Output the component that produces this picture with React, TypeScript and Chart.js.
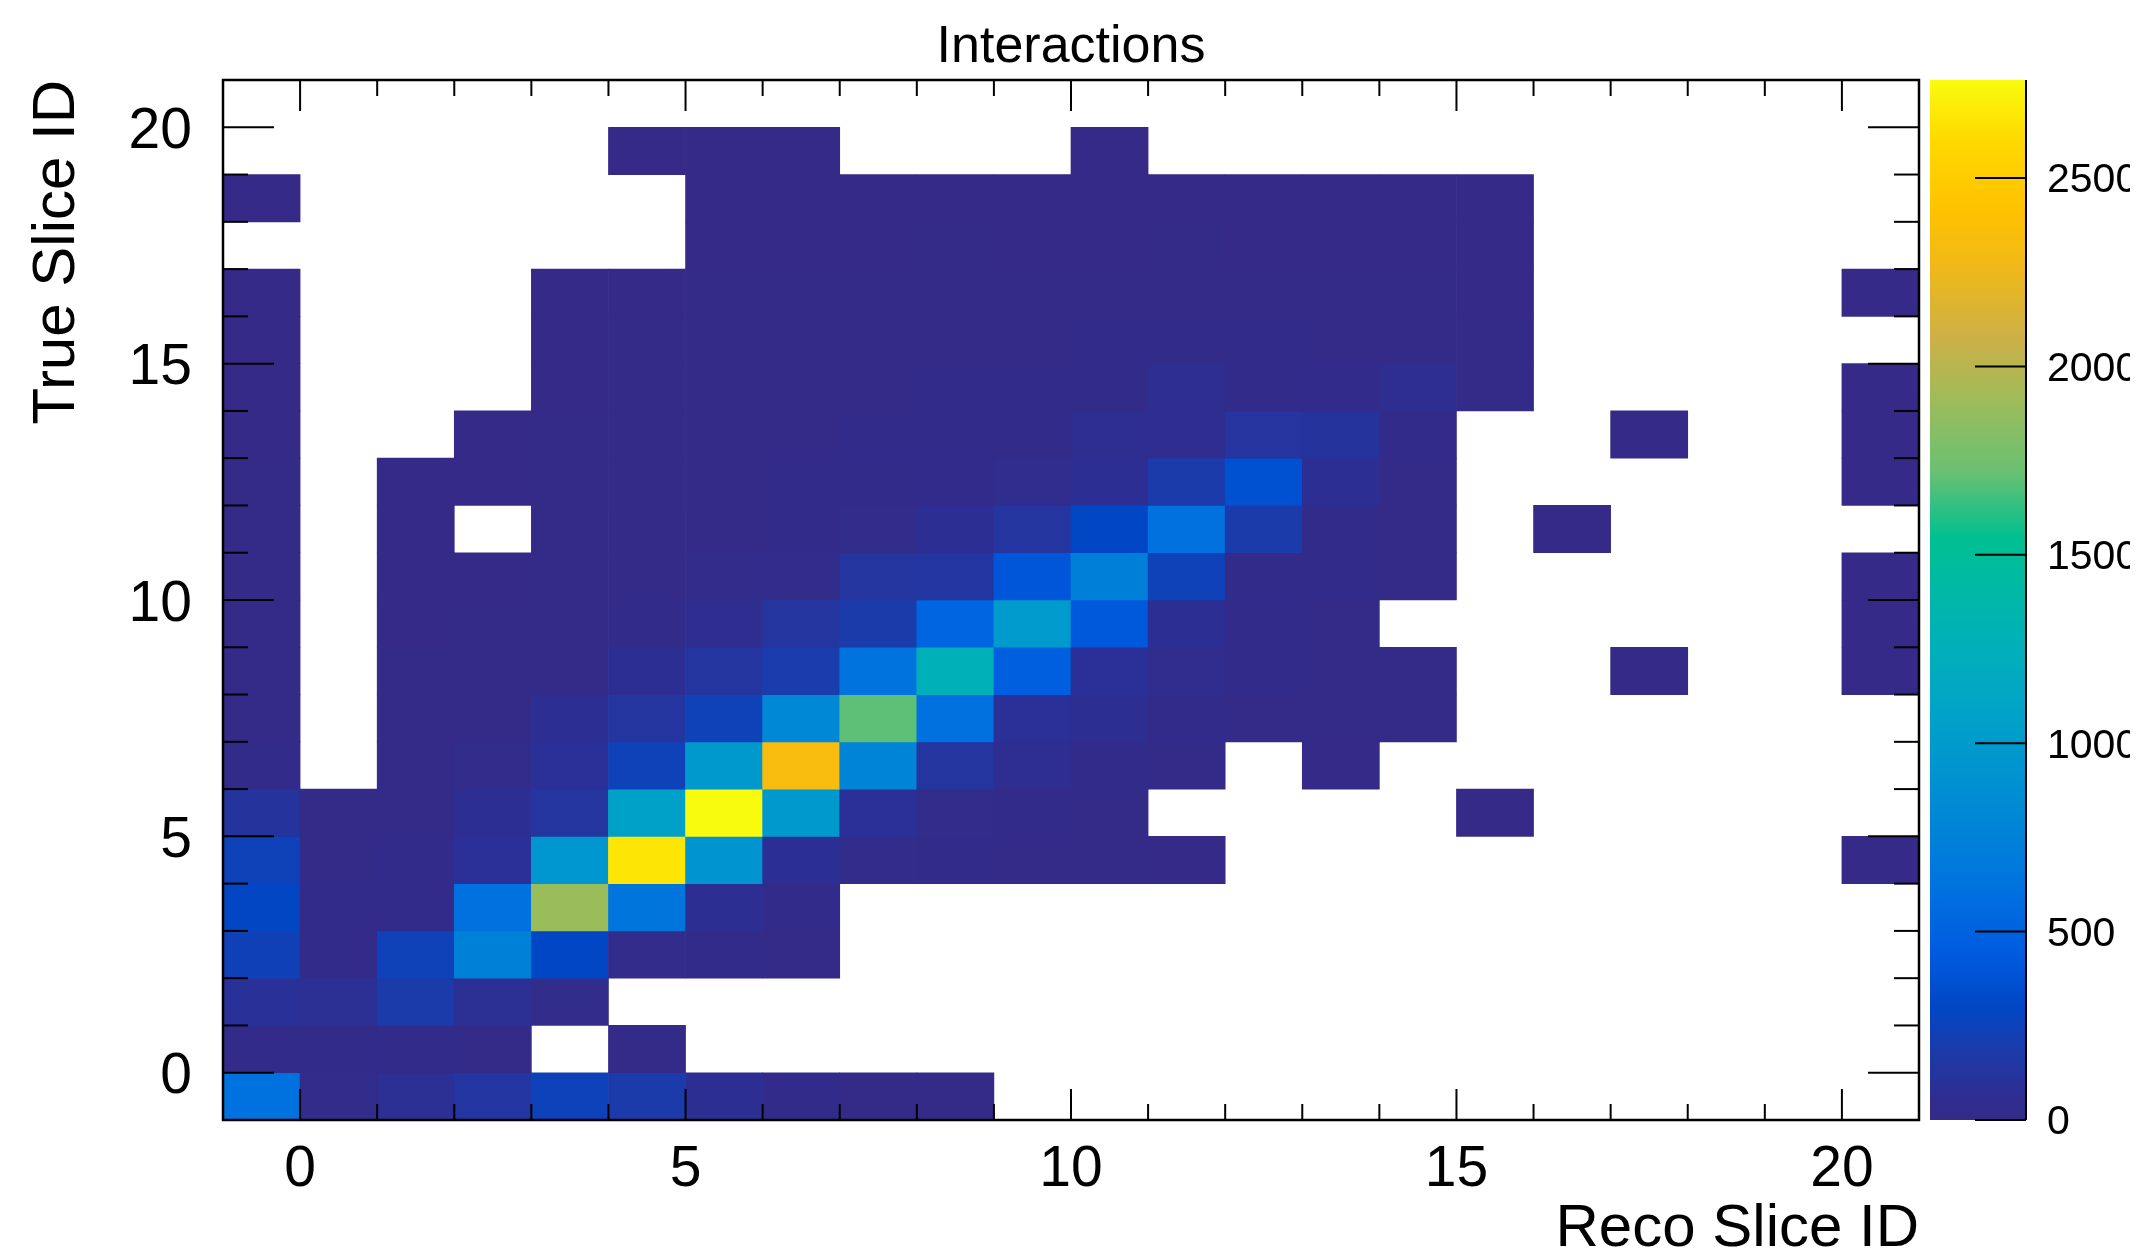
import React, { useEffect, useRef } from 'react';
import { Chart, registerables } from 'chart.js';

Chart.register(...registerables);

// ---------------- data ----------------
// bin lower edges (bins are [edge, edge + 1))
const recoSliceBinEdges = [-1, 0, 1, 2, 3, 4, 5, 6, 7, 8, 9, 10, 11, 12, 13, 14, 15, 16, 17, 18, 19, 20];
const trueSliceBinEdges = [-1, 0, 1, 2, 3, 4, 5, 6, 7, 8, 9, 10, 11, 12, 13, 14, 15, 16, 17, 18, 19, 20];
const axisLabelTicks = [0, 5, 10, 15, 20];
const colorbarTicks = [0, 500, 1000, 1500, 2000, 2500];
const zMaximum = 2760;

// counts per True Slice ID bin, entries ordered by Reco Slice ID bin (-1 .. 20)
const countsTrueM1 = [620, 25, 75, 135, 250, 185, 65, 20, 12, 8, 0, 0, 0, 0, 0, 0, 0, 0, 0, 0, 0, 0];
const countsTrue0 = [20, 18, 15, 12, 0, 5, 0, 0, 0, 0, 0, 0, 0, 0, 0, 0, 0, 0, 0, 0, 0, 0];
const countsTrue1 = [95, 75, 185, 75, 25, 0, 0, 0, 0, 0, 0, 0, 0, 0, 0, 0, 0, 0, 0, 0, 0, 0];
const countsTrue2 = [235, 20, 240, 750, 300, 25, 15, 10, 0, 0, 0, 0, 0, 0, 0, 0, 0, 0, 0, 0, 0, 0];
const countsTrue3 = [290, 14, 18, 610, 1900, 650, 65, 20, 0, 0, 0, 0, 0, 0, 0, 0, 0, 0, 0, 0, 0, 0];
const countsTrue4 = [240, 12, 15, 90, 950, 2660, 930, 85, 25, 15, 10, 6, 3, 0, 0, 0, 0, 0, 0, 0, 0, 1];
const countsTrue5 = [120, 10, 12, 70, 130, 1060, 2760, 980, 90, 25, 15, 8, 0, 0, 0, 0, 1, 0, 0, 0, 0, 0];
const countsTrue6 = [15, 0, 8, 25, 90, 240, 980, 2330, 770, 130, 55, 18, 10, 0, 3, 0, 0, 0, 0, 0, 0, 0];
const countsTrue7 = [8, 0, 6, 10, 70, 130, 240, 800, 1700, 610, 90, 65, 20, 12, 8, 5, 0, 0, 0, 0, 0, 0];
const countsTrue8 = [7, 0, 5, 7, 12, 70, 130, 195, 630, 1270, 470, 90, 45, 16, 12, 6, 0, 0, 1, 0, 0, 3];
const countsTrue9 = [6, 0, 4, 5, 10, 14, 50, 130, 185, 520, 990, 420, 70, 18, 10, 0, 0, 0, 0, 0, 0, 2];
const countsTrue10 = [6, 0, 3, 4, 8, 12, 25, 28, 130, 135, 410, 730, 240, 20, 14, 8, 0, 0, 0, 0, 0, 3];
const countsTrue11 = [5, 0, 2, 0, 6, 9, 12, 16, 25, 70, 130, 300, 610, 185, 18, 10, 0, 1, 0, 0, 0, 0];
const countsTrue12 = [5, 0, 1, 3, 6, 8, 11, 14, 18, 22, 45, 70, 185, 370, 70, 12, 0, 0, 0, 0, 0, 3];
const countsTrue13 = [4, 0, 0, 2, 5, 7, 9, 12, 14, 16, 20, 55, 52, 125, 120, 15, 0, 0, 1, 0, 0, 2];
const countsTrue14 = [3, 0, 0, 0, 4, 6, 8, 10, 12, 14, 16, 18, 55, 20, 22, 55, 8, 0, 0, 0, 0, 2];
const countsTrue15 = [3, 0, 0, 0, 3, 5, 7, 9, 10, 11, 12, 13, 15, 14, 12, 10, 6, 0, 0, 0, 0, 0];
const countsTrue16 = [2, 0, 0, 0, 2, 4, 6, 7, 6, 8, 7, 8, 9, 8, 6, 5, 4, 0, 0, 0, 0, 1];
const countsTrue17 = [0, 0, 0, 0, 0, 0, 3, 4, 3, 5, 4, 4, 5, 4, 3, 2, 2, 0, 0, 0, 0, 0];
const countsTrue18 = [1, 0, 0, 0, 0, 0, 2, 3, 2, 3, 2, 2, 3, 2, 2, 1, 1, 0, 0, 0, 0, 0];
const countsTrue19 = [0, 0, 0, 0, 0, 1, 1, 1, 0, 0, 0, 1, 0, 0, 0, 0, 0, 0, 0, 0, 0, 0];
const countsTrue20 = [0, 0, 0, 0, 0, 0, 0, 0, 0, 0, 0, 0, 0, 0, 0, 0, 0, 0, 0, 0, 0, 0];

const countsByTrueSlice = [
  countsTrueM1, countsTrue0, countsTrue1, countsTrue2, countsTrue3, countsTrue4, countsTrue5,
  countsTrue6, countsTrue7, countsTrue8, countsTrue9, countsTrue10, countsTrue11, countsTrue12,
  countsTrue13, countsTrue14, countsTrue15, countsTrue16, countsTrue17, countsTrue18, countsTrue19,
  countsTrue20,
];

// ---------------- style ----------------
const FONT = "'Liberation Sans', Arial, Helvetica, sans-serif";

const paletteStops = [0, 0.03, 0.07, 0.11, 0.16, 0.215, 0.27, 0.34, 0.4, 0.46, 0.53, 0.56, 0.625, 0.69, 0.75, 0.82, 0.875, 0.94, 1];
const paletteColors = [
  '#352a87', '#2b2f95', '#1a3cad', '#0047c6', '#005bdf', '#006fe0', '#0081d8', '#0095d0',
  '#00a5c6', '#00b0b8', '#00bc9e', '#00c090', '#6cc072', '#9cbc5a', '#ccb048', '#f0b818',
  '#ffc200', '#ffd800', '#f9fb0e',
];

function hexToRgb(h: string): number[] {
  const n = parseInt(h.slice(1), 16);
  return [(n >> 16) & 255, (n >> 8) & 255, n & 255];
}

function colorForValue(v: number): string {
  const t = Math.min(1, Math.max(0, v / zMaximum));
  for (let i = 1; i < paletteStops.length; i++) {
    if (t <= paletteStops[i]) {
      const f = (t - paletteStops[i - 1]) / (paletteStops[i] - paletteStops[i - 1]);
      const a = hexToRgb(paletteColors[i - 1]);
      const b = hexToRgb(paletteColors[i]);
      return `rgb(${Math.round(a[0] + (b[0] - a[0]) * f)}, ${Math.round(a[1] + (b[1] - a[1]) * f)}, ${Math.round(a[2] + (b[2] - a[2]) * f)})`;
    }
  }
  return paletteColors[paletteColors.length - 1];
}

const CANVAS_W = 2130;
const CANVAS_H = 1254;

const rootFramePlugin = {
  id: 'rootFrame',
  afterDatasetsDraw(chart: any) {
    const { ctx, chartArea: a, scales } = chart;
    const xs = scales.x;
    const ys = scales.y;
    const zs = scales.z;
    ctx.save();
    ctx.strokeStyle = '#000';
    ctx.lineWidth = 2;
    const line = (x1: number, y1: number, x2: number, y2: number) => {
      ctx.beginPath();
      ctx.moveTo(x1, y1);
      ctx.lineTo(x2, y2);
      ctx.stroke();
    };
    // x ticks (bottom and top, pointing inward)
    recoSliceBinEdges.slice(1).forEach((v) => {
      const px = xs.getPixelForValue(v);
      const len = v % 5 === 0 ? 31 : 16;
      line(px, a.bottom, px, a.bottom - len);
      line(px, a.top, px, a.top + len);
    });
    // y ticks (left and right, pointing inward)
    trueSliceBinEdges.slice(1).forEach((v) => {
      const py = ys.getPixelForValue(v);
      const len = v % 5 === 0 ? 51 : 25;
      line(a.left, py, a.left + len, py);
      line(a.right, py, a.right - len, py);
    });
    // frame
    ctx.lineWidth = 2.5;
    ctx.strokeRect(a.left, a.top, a.right - a.left, a.bottom - a.top);

    // colour bar
    const barLeft = zs.left + 11;
    const barRight = zs.left + 107;
    const barTop = zs.getPixelForValue(zMaximum);
    const barBottom = zs.getPixelForValue(0);
    const grad = ctx.createLinearGradient(0, barBottom, 0, barTop);
    paletteStops.forEach((s, i) => grad.addColorStop(s, paletteColors[i]));
    ctx.fillStyle = grad;
    ctx.fillRect(barLeft, barTop, barRight - barLeft, barBottom - barTop);
    ctx.lineWidth = 2;
    line(barRight, barTop, barRight, barBottom);
    colorbarTicks.forEach((v) => {
      const py = zs.getPixelForValue(v);
      line(barRight, py, barRight - 51, py);
    });
    ctx.restore();
  },
};

export default function App() {
  const canvasRef = useRef<HTMLCanvasElement | null>(null);

  useEffect(() => {
    const cells: any[] = [];
    countsByTrueSlice.forEach((row, ri) => {
      row.forEach((count, ci) => {
        if (count > 0) {
          cells.push({
            x: recoSliceBinEdges[ci] + 0.5,
            y: [trueSliceBinEdges[ri], trueSliceBinEdges[ri] + 1],
            count,
          });
        }
      });
    });

    const resetPadding = (s: any) => {
      s.paddingTop = 0;
      s.paddingBottom = 0;
      s.paddingLeft = 0;
      s.paddingRight = 0;
    };

    const chart = new Chart(canvasRef.current as HTMLCanvasElement, {
      type: 'bar',
      data: {
        datasets: [
          {
            data: cells,
            backgroundColor: (c: any) => (c.raw ? colorForValue(c.raw.count) : 'rgba(0,0,0,0)'),
            borderWidth: 0,
            barPercentage: 1,
            categoryPercentage: 1,
          } as any,
        ],
      },
      options: {
        responsive: false,
        animation: false,
        events: [],
        layout: { padding: 0 },
        plugins: {
          legend: { display: false },
          tooltip: { enabled: false },
          title: {
            display: true,
            text: 'Interactions',
            fullSize: false,
            color: '#000',
            font: { family: FONT, size: 52, weight: 'normal', lineHeight: 1.2 },
            padding: { top: 16, bottom: 1.6 },
          },
        },
        scales: {
          x: {
            type: 'linear',
            position: 'bottom',
            min: -1,
            max: 21,
            offset: false,
            grid: { display: false, drawTicks: false },
            border: { display: false },
            ticks: {
              color: '#000',
              font: { family: FONT, size: 57 },
              padding: 16,
              maxRotation: 0,
              autoSkip: false,
              callback: (v: any) => String(v),
            },
            afterBuildTicks: (s: any) => {
              s.ticks = axisLabelTicks.map((value) => ({ value }));
            },
            afterFit: (s: any) => {
              s.height = 134;
              resetPadding(s);
            },
            title: {
              display: true,
              text: 'Reco Slice ID',
              align: 'end',
              color: '#000',
              font: { family: FONT, size: 60, lineHeight: 1 },
              padding: { top: 0, bottom: -5 },
            },
          },
          y: {
            type: 'linear',
            position: 'left',
            min: -1,
            max: 21,
            grid: { display: false, drawTicks: false },
            border: { display: false },
            ticks: {
              color: '#000',
              font: { family: FONT, size: 57 },
              padding: 31,
              labelOffset: 5,
              autoSkip: false,
              callback: (v: any) => String(v),
            },
            afterBuildTicks: (s: any) => {
              s.ticks = axisLabelTicks.map((value) => ({ value }));
            },
            afterFit: (s: any) => {
              s.width = 223;
              resetPadding(s);
            },
            title: {
              display: true,
              text: 'True Slice ID',
              align: 'end',
              color: '#000',
              font: { family: FONT, size: 60, lineHeight: 1 },
              padding: { top: 27.5, bottom: 0 },
            },
          },
          z: {
            type: 'linear',
            position: 'right',
            min: 0,
            max: zMaximum,
            grid: { display: false, drawTicks: false },
            border: { display: false },
            ticks: {
              color: '#000',
              font: { family: FONT, size: 41 },
              padding: 128,
              labelOffset: 3,
              autoSkip: false,
              callback: (v: any) => String(v),
            },
            afterBuildTicks: (s: any) => {
              s.ticks = colorbarTicks.map((value) => ({ value }));
            },
            afterFit: (s: any) => {
              s.width = CANVAS_W - 1919;
              resetPadding(s);
            },
          },
        } as any,
      },
      plugins: [rootFramePlugin],
    } as any);

    return () => chart.destroy();
  }, []);

  return (
    <div
      style={{
        position: 'absolute',
        left: 0,
        top: 0,
        width: 2142,
        height: 1254,
        background: '#fff',
        overflow: 'hidden',
      }}
    >
      <canvas
        ref={canvasRef}
        width={CANVAS_W}
        height={CANVAS_H}
        style={{ display: 'block', width: CANVAS_W, height: CANVAS_H }}
      />
    </div>
  );
}
